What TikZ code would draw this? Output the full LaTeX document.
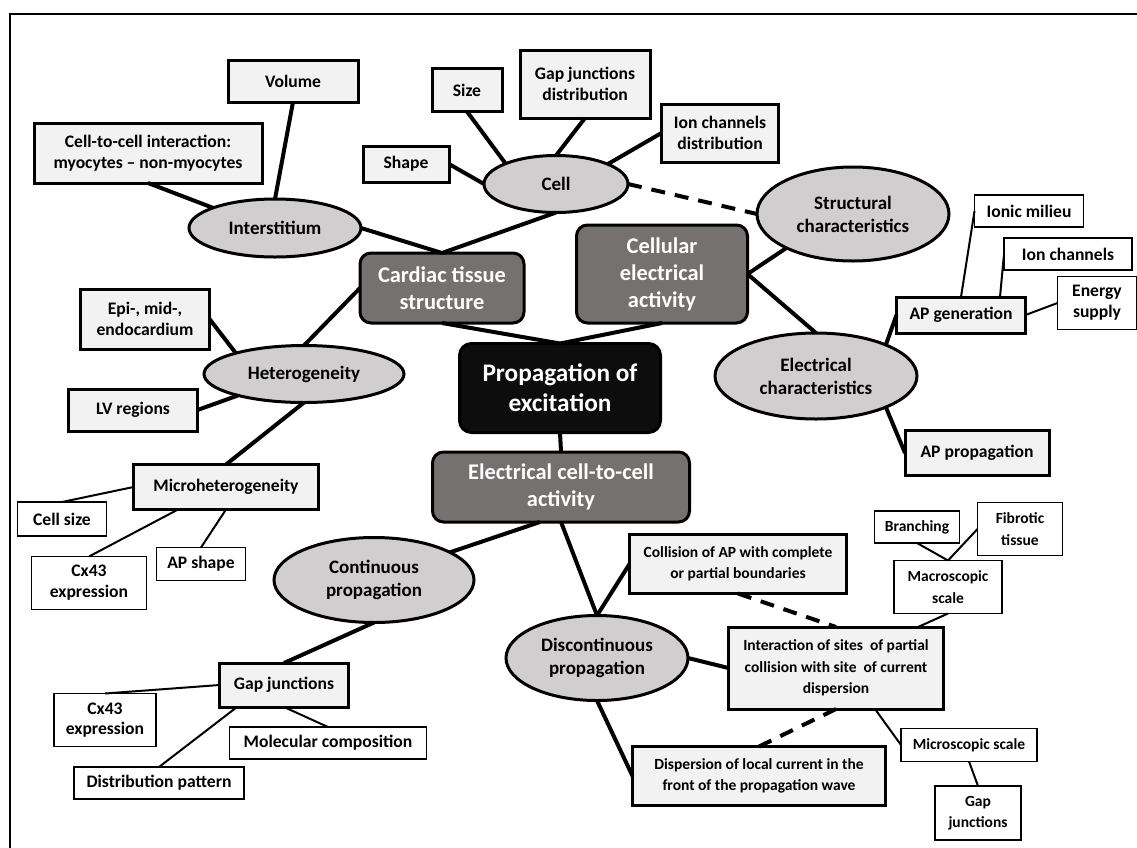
\documentclass[tikz,border=0pt]{standalone}
\usepackage{fontspec}
\setmainfont{Carlito}
\usetikzlibrary{shapes.geometric}
\definecolor{boxfill}{HTML}{F2F2F2}
\definecolor{ellfill}{HTML}{D0CECE}
\definecolor{darkfill}{HTML}{767171}
\definecolor{blackfill}{HTML}{0D0D0D}
\tikzset{
  sz/.style 2 args={minimum width=#1pt, minimum height=#2pt},
  lbox/.style={draw, line width=3pt, fill=boxfill, inner sep=0pt, outer sep=0pt, align=center,
    font=\fontsize{17.6}{20.8}\selectfont\bfseries},
  tbox/.style={draw, line width=1.5pt, fill=white, inner sep=0pt, outer sep=0pt, align=center,
    font=\fontsize{17.6}{20.8}\selectfont\bfseries},
  smallfont/.style={font=\fontsize{15.5}{21.5}\selectfont\bfseries},
  ell/.style={ellipse, draw, line width=3pt, fill=ellfill, inner sep=0pt, outer sep=0pt, align=center,
    font=\fontsize{19}{23}\selectfont\bfseries},
  dbox/.style={draw, line width=3pt, fill=darkfill, rounded corners=11pt, text=white, inner sep=0pt,
    outer sep=0pt, align=center, font=\fontsize{22.4}{27}\selectfont\bfseries},
  cbox/.style={draw, line width=3pt, fill=blackfill, rounded corners=12pt, text=white, inner sep=0pt,
    outer sep=0pt, align=center, font=\fontsize{25.3}{30}\selectfont\bfseries},
  thick con/.style={line width=4pt},
  thin con/.style={line width=2pt},
  dash con/.style={line width=4pt, dash pattern=on 14pt off 10pt},
}
\begin{document}
\begin{tikzpicture}[x=1pt, y=-1pt]
\useasboundingbox (0,0) rectangle (1137,847);
\coordinate (fa) at (10,850);
\coordinate (fb) at (10,14);
\coordinate (fc) at (1140,14);
\draw[line width=2.5pt] (fa) -- (fb) -- (fc);

% upper left
\node[lbox, sz={130}{42}] (vol) at (293,81) {Volume};
\node[lbox, sz={228}{60}] (cci) at (148,153) {Cell-to-cell interaction:\\myocytes -- non-myocytes};
\node[ell, sz={172}{58}] (inter) at (275,228) {Interstitium};
% cell
\node[lbox, sz={70}{43}] (size) at (467,90) {Size};
\node[lbox, sz={130}{68}] (gap) at (585,84) {Gap junctions\\distribution};
\node[lbox, sz={117}{58}] (ion) at (720,133) {Ion channels\\distribution};
\node[lbox, sz={86}{36}] (shape) at (406,164) {Shape};
\node[ell, sz={144}{57}] (cell) at (556,184) {Cell};
\node[ell, sz={192}{94}] (struct) at (853,214) {Structural\\characteristics};
% centre
\node[dbox, sz={164}{70}] (card) at (442,288) {Cardiac tissue\\structure};
\node[dbox, sz={171}{98}] (cellular) at (662,274) {Cellular\\electrical\\activity};
\node[cbox, sz={201}{89}] (prop) at (560,388) {Propagation of\\excitation};
\node[dbox, sz={257}{70}] (ecc) at (561,487) {Electrical cell-to-cell\\activity};
% right upper
\node[ell, sz={202}{86}] (elec) at (816,376) {Electrical\\characteristics};
\node[tbox, sz={109}{32}] (ionic) at (1029,211) {Ionic milieu};
\node[tbox, sz={128}{32}] (ion2) at (1068,254) {Ion channels};
\node[tbox, sz={79}{53}] (energy) at (1097,303) {Energy\\supply};
\node[lbox, sz={129}{36}] (apgen) at (961,315) {AP generation};
\node[lbox, sz={144}{45}] (approp) at (977,453) {AP propagation};
% left
\node[lbox, sz={129}{60}] (epi) at (145,319) {Epi-, mid-,\\endocardium};
\node[ell, sz={200}{57}] (het) at (304,374) {Heterogeneity};
\node[lbox, sz={129}{42}] (lv) at (133,410) {LV regions};
\node[lbox, sz={185}{45}] (micro) at (226,487) {Microheterogeneity};
\node[tbox, sz={89}{34}] (cellsize) at (62,519) {Cell size};
\node[tbox, sz={115}{53}] (cxa) at (89,583) {Cx43\\expression};
\node[tbox, sz={89}{33}] (apshape) at (201,564) {AP shape};
\node[ell, sz={200}{85}] (cont) at (374,580) {Continuous\\propagation};
\node[lbox, sz={129}{44}] (gj) at (284,685) {Gap junctions};
\node[tbox, sz={102}{53}] (cxb) at (105,720) {Cx43\\expression};
\node[tbox, sz={197}{32}] (mol) at (328,743) {Molecular composition};
\node[tbox, sz={170}{32}] (dist) at (159,783) {Distribution pattern};
% lower right
\node[ell, sz={182}{85}] (disc) at (597,658) {Discontinuous\\propagation};
\node[lbox, smallfont, sz={217}{59}] (coll) at (738,564) {Collision of AP with complete\\or partial boundaries};
\node[lbox, smallfont, sz={215}{82}] (int) at (836,668) {Interaction of sites\ \ of partial\\collision with site\ \ of current\\dispersion};
\node[lbox, smallfont, sz={253}{59}] (disp) at (759,776) {Dispersion of local current in the\\front of the propagation wave};
\node[tbox, smallfont, sz={85}{32}] (branch) at (917,527) {Branching};
\node[tbox, smallfont, sz={85}{53}] (fib) at (1020,529) {Fibrotic\\tissue};
\node[tbox, smallfont, sz={108}{53}] (macro) at (948,587) {Macroscopic\\scale};
\node[tbox, smallfont, sz={136}{33}] (micros) at (969,745) {Microscopic scale};
\node[tbox, smallfont, sz={86}{54}] (gjr) at (978,813) {Gap\\junctions};

% connectors
\draw[thick con] (vol.south) -- (inter.north);
\draw[thick con] (cci.south) -- (inter.162);
\draw[thick con] (inter.east) -- (card.north);
\draw[thick con] (cell.south) -- (card.north);
\draw[thick con] (size.south) -- (cell.158);
\draw[thick con] (gap.south) -- (cell.north);
\draw[thick con] (ion.west) -- (cell.21);
\draw[thick con] (shape.east) -- (cell.west);
\draw[dash con] (cell.east) -- (struct.west);
\draw[thick con] (cellular.east) -- (struct.207);
\draw[thick con] (cellular.east) -- (elec.north);
\draw[thick con] (card.south) -- (prop.north);
\draw[thick con] (cellular.south) -- (prop.north);
\draw[thick con] (prop.south) -- (ecc.north);
\draw[thick con] ([xshift=-21pt]ecc.south) -- (cont.20);
\draw[thick con] (ecc.south) -- (disc.north);
\draw[thick con] (disc.north) -- (coll.west);
\draw[thick con] (disc.east) -- (int.west);
\draw[thick con] (disc.south) -- (disp.west);
\draw[dash con] (coll.south) -- (int.north);
\draw[dash con] (int.south) -- (disp.north);
\draw[thin con] (macro.south) -- ([xshift=82pt]int.north);
\draw[thin con] (branch.south) -- (macro.north);
\draw[thin con] (fib.west) -- (macro.north);
\draw[thin con] ([xshift=39pt]int.south) -- (micros.west);
\draw[thin con] (micros.south) -- (gjr.north);
\draw[thick con] (elec.24) -- (apgen.west);
\draw[thin con] (apgen.north) -- (ionic.west);
\draw[thin con] ([xshift=39pt]apgen.north) -- (ion2.west);
\draw[thin con] (apgen.east) -- (energy.west);
\draw[thick con] (elec.336) -- (approp.west);
\draw[thick con] (card.west) -- (het.north);
\draw[thick con] (epi.east) -- (het.163);
\draw[thick con] (lv.east) -- (het.198);
\draw[thick con] (het.south) -- (micro.north);
\draw[thin con] (micro.west) -- (cellsize.north);
\draw[thin con] ([xshift=-48pt]micro.south) -- (cxa.north);
\draw[thin con] (micro.south) -- (apshape.north);
\draw[thick con] (cont.south) -- (gj.north);
\draw[thin con] (gj.west) -- (cxb.north);
\draw[thin con] ([xshift=-47pt]gj.south) -- (dist.north);
\draw[thin con] (gj.south) -- (mol.north);
\end{tikzpicture}
\end{document}
